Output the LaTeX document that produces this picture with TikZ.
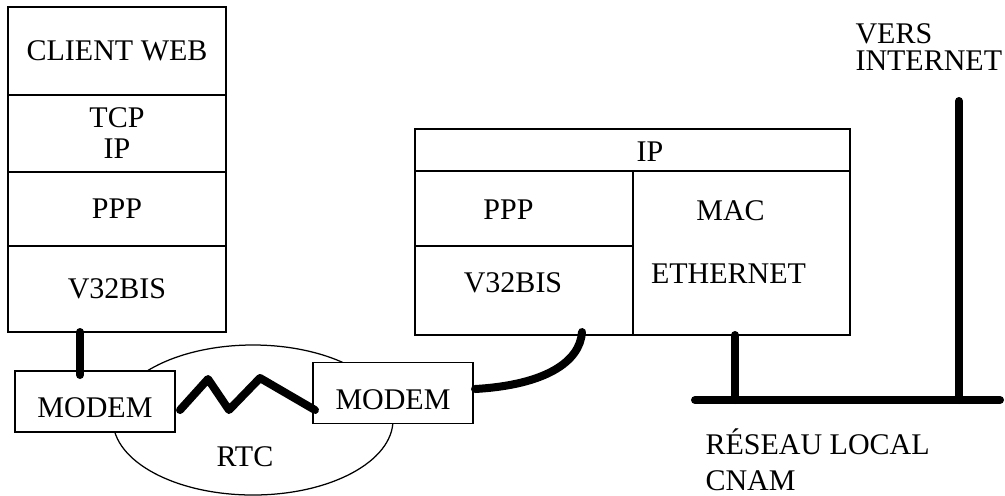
\documentclass[tikz,border=0pt]{standalone}
\usepackage{fontspec}
\setmainfont{Liberation Serif}
\usetikzlibrary{positioning, calc}

\tikzset{
  cell/.style={draw, line width=0.5pt, inner sep=0pt, outer sep=0pt, fill=white,
    font=\fontsize{12}{12.4}\selectfont, align=center},
  modem/.style={cell, minimum width=64pt, minimum height=24.4pt, text height=13pt, text depth=0pt},
  lbl/.style={inner sep=0pt, font=\fontsize{12}{14}\selectfont},
  wire/.style={line width=3.2pt, line cap=round, line join=round},
}

\begin{document}
\begin{tikzpicture}[x=0.4pt,y=-0.4pt]
  \useasboundingbox (0,0) rectangle (1005,495);

  \draw[line width=0.5pt] (253,420) ellipse[x radius=140, y radius=75];
  \node[lbl] (rtc) at (245,457) {RTC};

  \node[cell, minimum width=87.2pt, minimum height=35.2pt] (web) at (117,51) {CLIENT WEB};
  \node[cell, minimum width=87.2pt, minimum height=30.8pt, below=0pt of web] (tcp) {TCP\\IP};
  \node[cell, minimum width=87.2pt, minimum height=29.6pt, below=0pt of tcp] (ppp) {PPP};
  \node[cell, minimum width=87.2pt, minimum height=34.4pt, below=0pt of ppp] (v32) {V32BIS};

  \node[modem] (mdmL) at (95,401.5) {MODEM};
  \node[modem] (mdmR) at (393,393) {MODEM};

  \node[cell, minimum width=174pt, minimum height=16.8pt] (ip) at (632.5,150) {};
  \node[cell, minimum width=87.2pt, minimum height=30pt] (pppR) at (524,208.5) {};
  \node[cell, minimum width=87.2pt, minimum height=35.6pt, below=0pt of pppR] (v32R) {};
  \node[cell, minimum width=86.8pt, minimum height=65.6pt, right=0pt of pppR.north east, anchor=north west] (eth) {};
  \node[lbl] (ipT) at (650,152) {IP};
  \node[lbl] (pppT) at (508.5,210) {PPP};
  \node[lbl] (v32T) at (513,282.5) {V32BIS};
  \node[lbl] (macT) at (730.5,211) {MAC};
  \node[lbl] (ethT) at (728.5,274) {ETHERNET};

  \node[lbl, anchor=base west] (vers) at (855,43) {VERS};
  \node[lbl, anchor=base west] (inet) at (855,70) {INTERNET};
  \node[lbl, anchor=base west] (reseau) at (705,454) {RÉSEAU LOCAL};
  \node[lbl, anchor=base west] (cnam) at (705,490) {CNAM};

  \coordinate (busL) at (695,400);
  \coordinate (busR) at (1000,400);
  \coordinate (up) at (959,101);
  \coordinate (tapL) at ($(mdmL.north)+(-15,4)$);
  \coordinate (tapE) at ($(eth.south)+(-6.5,0)$);

  \draw[wire] (tapL) -- (tapL |- v32.south);
  \draw[wire] ($(mdmL.east)+(5,8.5)$) -- (208,379) -- (229,410) -- (260,378) -- ($(mdmR.west)+(2,17)$);
  \draw[wire] ($(mdmR.east)+(2,-4)$) .. controls (545,385) and (580,362) .. ($(v32R.south east)+(-51,-3)$);
  \draw[wire] (busL) -- (busR);
  \draw[wire] (tapE) -- (tapE |- busL);
  \draw[wire] (up) -- (up |- busL);
\end{tikzpicture}
\end{document}
